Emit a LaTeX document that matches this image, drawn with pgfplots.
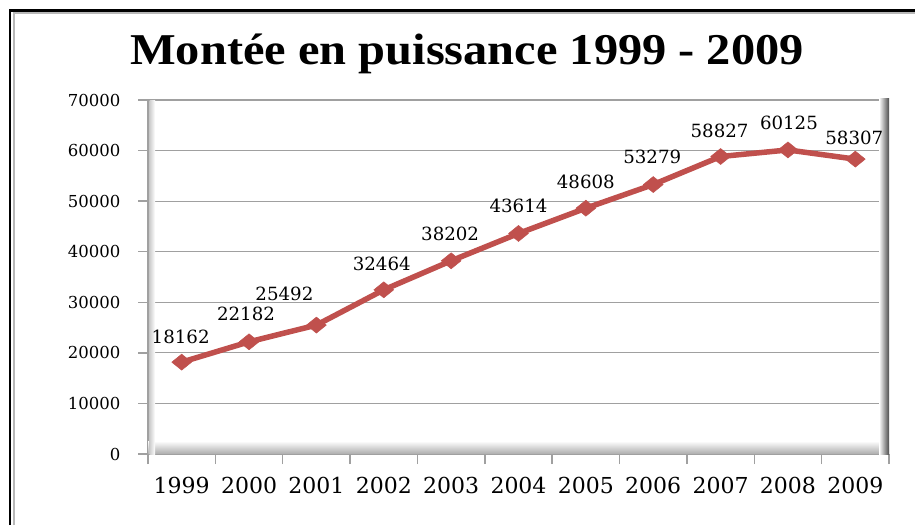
\documentclass[border=0pt]{standalone}
\usepackage{fontspec}
\setmainfont{DejaVu Serif}
\newfontfamily\titlefont{Liberation Serif}
\usepackage{pgfplots}
\pgfplotsset{compat=1.18}
\definecolor{linered}{HTML}{C0504D}
\definecolor{gridgray}{HTML}{A0A0A0}
\begin{document}
\begin{tikzpicture}
\path[use as bounding box] (0pt,0pt) rectangle (915pt,525pt);
\fill[white] (0pt,0pt) rectangle (915pt,525pt);
\draw[black, line width=2.5pt] (10pt,0pt) -- (10pt,514.5pt) -- (915pt,514.5pt);
\draw[black!28, line width=2pt] (14pt,0pt) -- (14pt,511.5pt) -- (915pt,511.5pt);
\node[anchor=base, font=\titlefont\bfseries\fontsize{44}{48}\selectfont] at (467pt,460pt) {\scalebox{1.1}[1]{Montée en puissance 1999 - 2009}};
\begin{axis}[
  at={(148pt,71pt)}, anchor=south west,
  scale only axis, width=741pt, height=354pt,
  xmin=-0.5, xmax=10.5, ymin=0, ymax=70000,
  ytick={0,10000,...,70000},
  xtick={-0.5,0.5,...,10.5},
  xticklabels={},
  extra x ticks={0,1,2,3,4,5,6,7,8,9,10},
  extra x tick labels={1999,2000,2001,2002,2003,2004,2005,2006,2007,2008,2009},
  extra x tick style={major tick length=0pt, grid=none},
  ymajorgrids,
  grid style={gridgray, line width=1.2pt},
  axis lines*=left,
  axis line style={gridgray, line width=2.5pt},
  tick align=outside,
  major tick length=10pt,
  tick style={gridgray, line width=1.5pt},
  scaled y ticks=false,
  /pgf/number format/.cd, 1000 sep={}, assume math mode=true,
  /pgfplots/.cd,
  yticklabel style={font=\fontsize{16.5}{18}\selectfont, xshift=-14pt, text=black},
  xticklabel style={font=\fontsize{22}{24}\selectfont, yshift=-20pt, text=black},
  clip=false,
]
\shade[top color=white, bottom color=black!30] ([yshift=1pt]rel axis cs:0,0) rectangle ([yshift=13pt]rel axis cs:1,0);
\shade[left color=white, right color=black!70] ([xshift=-10pt]rel axis cs:1,0) rectangle ([yshift=2pt]rel axis cs:1,1);
\shade[left color=black!20, right color=white] ([xshift=1.5pt]rel axis cs:0,0) rectangle ([xshift=7pt]rel axis cs:0,1);
\addplot[linered, line width=5.5pt, mark=diamond*, mark size=8pt,
  mark options={solid, fill=linered, line width=0.5pt, xscale=1.65},
  visualization depends on={\thisrow{dx}\as\dx},
  visualization depends on={\thisrow{dy}\as\dy},
  nodes near coords,
  nodes near coords style={font=\fontsize{18.2}{20}\selectfont, text=black, anchor=south, inner sep=2pt, xshift=\dx pt, yshift=\dy pt - 10pt}]
table[x=x, y=y] {
x  y      dx   dy
0  18162  -1   26
1  22182  -3   29
2  25492  -32  32
3  32464  -2   27
4  38202  -1   28
5  43614  0    28
6  48608  0    27
7  53279  -1   29
8  58827  -1   26
9  60125  1    28
10 58307  -1   22
};
\end{axis}
\end{tikzpicture}
\end{document}
